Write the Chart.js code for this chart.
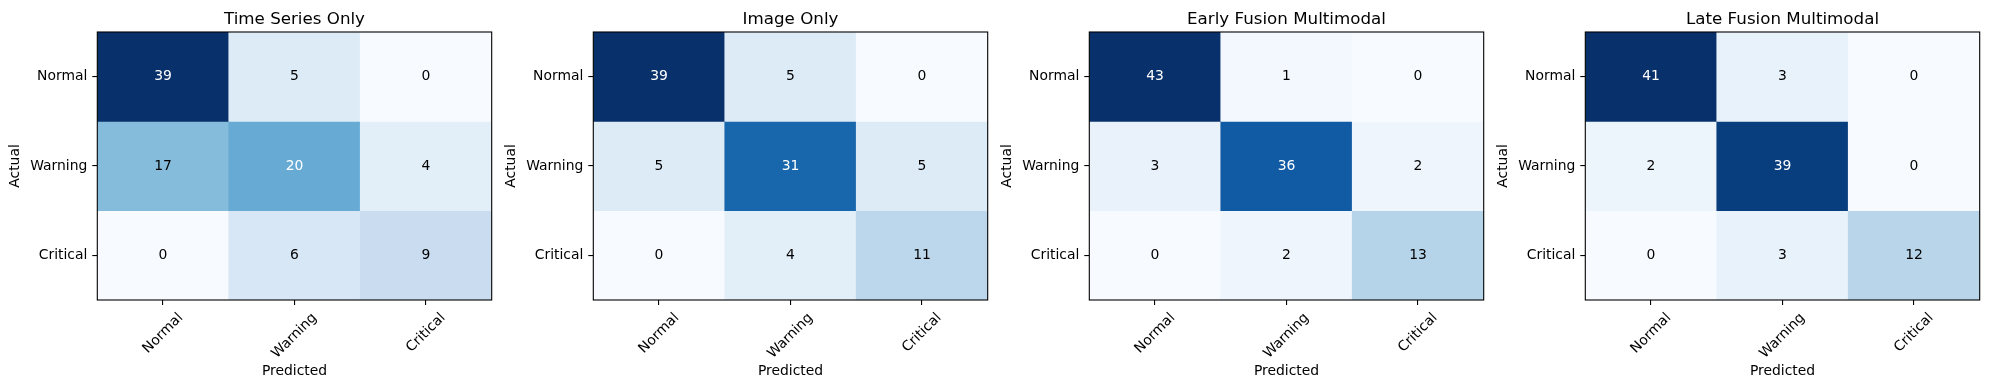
<!DOCTYPE html>
<html>
<head>
<meta charset="utf-8">
<script src="https://cdn.jsdelivr.net/npm/chart.js@4"></script>
<style>
body { margin: 0; background: #fff; width: 1990px; height: 390px; position: relative; overflow: hidden; }
canvas { position: absolute; top: 0; }
</style>
</head>
<body>
<canvas id="c0" width="496" height="390" style="left:0px"></canvas>
<canvas id="c1" width="496" height="390" style="left:496px"></canvas>
<canvas id="c2" width="496" height="390" style="left:992px"></canvas>
<canvas id="c3" width="496" height="390" style="left:1488px"></canvas>
<script>
const classes = ['Normal', 'Warning', 'Critical'];
const titles = ['Time Series Only', 'Image Only', 'Early Fusion Multimodal', 'Late Fusion Multimodal'];
// rows = actual, columns = predicted
const timeSeriesOnly = [[39, 5, 0], [17, 20, 4], [0, 6, 9]];
const imageOnly = [[39, 5, 0], [5, 31, 5], [0, 4, 11]];
const earlyFusion = [[43, 1, 0], [3, 36, 2], [0, 2, 13]];
const lateFusion = [[41, 3, 0], [2, 39, 0], [0, 3, 12]];
const matrices = [timeSeriesOnly, imageOnly, earlyFusion, lateFusion];

const FONT = 'DejaVu Sans';
Chart.defaults.font.family = FONT;
Chart.defaults.color = '#000';

// matplotlib "Blues"
const bluesStops = [[247,251,255],[222,235,247],[198,219,239],[158,202,225],[107,174,214],[66,146,198],[33,113,181],[8,81,156],[8,48,107]];
function blues(t) {
    t = Math.min(1, Math.max(0, t));
    const p = t * 8;
    const i = Math.min(7, Math.floor(p));
    const f = p - i;
    const a = bluesStops[i], b = bluesStops[i + 1];
    return 'rgb(' + a.map((v, k) => Math.round(v + (b[k] - v) * f)).join(',') + ')';
}

const cellText = {
    id: 'cellText',
    afterDatasetsDraw(chart, args, opts) {
        const {ctx, chartArea: a, scales: {x, y}} = chart;
        const m = opts.matrix;
        const max = Math.max(...m.flat());
        ctx.save();
        ctx.strokeStyle = '#000';
        ctx.lineWidth = 1.1;
        ctx.strokeRect(a.left, a.top, a.right - a.left, a.bottom - a.top);

        ctx.font = '13.9px "' + FONT + '"';
        ctx.textAlign = 'center';
        ctx.textBaseline = 'middle';
        m.forEach((row, r) => row.forEach((v, c) => {
            ctx.fillStyle = v > max / 2 ? '#fff' : '#000';
            ctx.fillText(String(v), x.getPixelForValue(c), y.getPixelForValue(r));
        }));

        // rotated x tick labels, centred under the tick like matplotlib
        ctx.fillStyle = '#000';
        classes.forEach((lab, c) => {
            const w = ctx.measureText(lab).width;
            const half = (w + 16) / Math.SQRT2 / 2;
            ctx.save();
            ctx.translate(x.getPixelForValue(c), a.bottom + 10 + half);
            ctx.rotate(-Math.PI / 4);
            ctx.fillText(lab, 0, 0);
            ctx.restore();
        });

        ctx.font = '16.7px "' + FONT + '"';
        ctx.textBaseline = 'alphabetic';
        ctx.fillText(opts.title, (a.left + a.right) / 2, a.top - 8.3);
        ctx.restore();
    }
};

matrices.forEach((m, k) => {
    const max = Math.max(...m.flat());
    const ctx = document.getElementById('c' + k).getContext('2d');
    new Chart(ctx, {
        type: 'bar',
        data: {
            labels: classes,
            datasets: m.map((row, r) => ({
                data: row.map(() => [r - 0.5, r + 0.5]),
                backgroundColor: row.map(v => blues(v / max)),
                borderWidth: 0,
                grouped: false,
                barPercentage: 1,
                categoryPercentage: 1
            }))
        },
        options: {
            responsive: false,
            animation: false,
            layout: { padding: { left: 0, right: 4.3, top: 32, bottom: 0 } },
            plugins: {
                legend: { display: false },
                tooltip: { enabled: false },
                cellText: { matrix: m, title: titles[k] }
            },
            scales: {
                x: {
                    offset: true,
                    grid: { offset: false, drawOnChartArea: false, drawTicks: true, tickLength: 5, color: '#000', lineWidth: 1.1 },
                    border: { display: false },
                    ticks: { display: false },
                    title: { display: true, text: 'Predicted', font: { size: 13.9 }, padding: { top: 0, bottom: 10 } },
                    afterFit: s => { s.height = 90; }
                },
                y: {
                    type: 'linear',
                    reverse: true,
                    min: -0.5,
                    max: 2.5,
                    afterBuildTicks: s => { s.ticks = classes.map((c, i) => ({ value: i })); },
                    ticks: { callback: v => classes[v], font: { size: 13.9 }, padding: 5 },
                    grid: { drawOnChartArea: false, drawTicks: true, tickLength: 5, color: '#000', lineWidth: 1.1 },
                    border: { display: false },
                    title: { display: true, text: 'Actual', font: { size: 13.9 }, padding: { top: 7, bottom: 0 } },
                    afterFit: s => { s.width = 97.3; }
                }
            }
        },
        plugins: [cellText]
    });
});
</script>
</body>
</html>
